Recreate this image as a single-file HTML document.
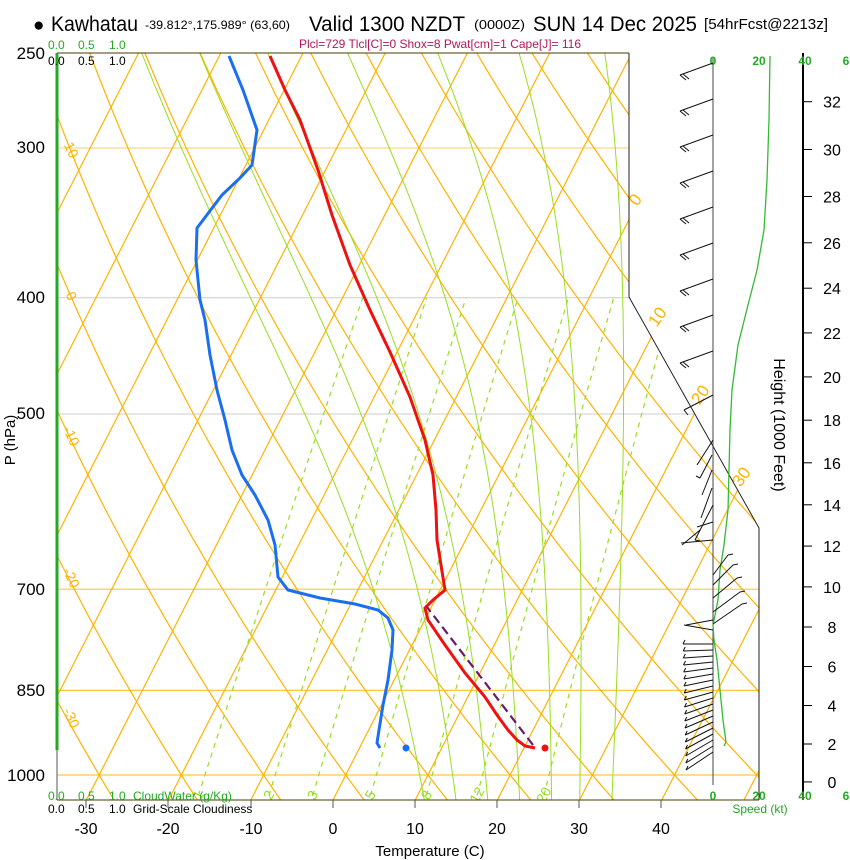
<!DOCTYPE html>
<html><head><meta charset="utf-8"><style>
html,body{margin:0;padding:0;background:#fff;}
svg{display:block;font-family:"Liberation Sans",sans-serif;}
</style></head><body>
<svg id="s" width="850" height="860" viewBox="0 0 850 860" xmlns="http://www.w3.org/2000/svg">
<defs><clipPath id="cp"><polygon points="57,53 629,53 629,297 759,528 759,800 57,800"/></clipPath></defs>
<g id="grid" clip-path="url(#cp)"></g>
<g id="top"></g>
<line x1="57" y1="53" x2="629" y2="53" stroke="#4a3c00" stroke-width="1"/>
<polyline points="629,53 629,297 759,528 759,800" fill="none" stroke="#222" stroke-width="1"/>
<line x1="57" y1="800" x2="759" y2="800" stroke="#4a3c00" stroke-width="1"/>
<line x1="57" y1="53" x2="57" y2="750" stroke="#22aa22" stroke-width="3"/>
<line x1="57" y1="750" x2="57" y2="800" stroke="#555" stroke-width="1"/>
<line x1="713" y1="58" x2="713" y2="785" stroke="#444" stroke-width="1"/>
<line x1="803" y1="53" x2="803" y2="800" stroke="#000" stroke-width="2"/>
<g id="hax" font-size="16" fill="#000" text-anchor="middle"></g>
<g font-size="17" text-anchor="end" fill="#000">
<text x="45" y="59">250</text><text x="45" y="153">300</text><text x="45" y="303">400</text>
<text x="45" y="419">500</text><text x="45" y="595">700</text><text x="45" y="696">850</text><text x="45" y="781">1000</text>
</g>
<text transform="translate(15,440) rotate(-90)" font-size="15" text-anchor="middle">P (hPa)</text>
<g font-size="16" text-anchor="middle">
<text x="86" y="834">-30</text><text x="168" y="834">-20</text><text x="251" y="834">-10</text><text x="333" y="834">0</text>
<text x="415" y="834">10</text><text x="497" y="834">20</text><text x="579" y="834">30</text><text x="661" y="834">40</text>
</g>
<g stroke="#555"><line x1="86" y1="800" x2="86" y2="808"/><line x1="168" y1="800" x2="168" y2="808"/><line x1="251" y1="800" x2="251" y2="808"/><line x1="333" y1="800" x2="333" y2="808"/><line x1="415" y1="800" x2="415" y2="808"/><line x1="497" y1="800" x2="497" y2="808"/><line x1="579" y1="800" x2="579" y2="808"/><line x1="661" y1="800" x2="661" y2="808"/></g>
<text x="430" y="856" font-size="15" text-anchor="middle">Temperature (C)</text>
<text transform="translate(774,425) rotate(90)" font-size="16" text-anchor="middle">Height (1000 Feet)</text>
<text x="33" y="31" font-size="19">●</text>
<text x="51" y="31" font-size="21" textLength="87" lengthAdjust="spacingAndGlyphs">Kawhatau</text>
<text x="145" y="29" font-size="12" textLength="145" lengthAdjust="spacingAndGlyphs">-39.812°,175.989° (63,60)</text>
<text x="309" y="31" font-size="21" textLength="156" lengthAdjust="spacingAndGlyphs">Valid 1300 NZDT</text>
<text x="474" y="29" font-size="13" textLength="51" lengthAdjust="spacingAndGlyphs">(0000Z)</text>
<text x="533" y="31" font-size="21" textLength="164" lengthAdjust="spacingAndGlyphs">SUN 14 Dec 2025</text>
<text x="704" y="29" font-size="15" textLength="124" lengthAdjust="spacingAndGlyphs">[54hrFcst@2213z]</text>
<text x="440" y="48" font-size="12" fill="#b0185a" text-anchor="middle">Plcl=729 Tlcl[C]=0 Shox=8 Pwat[cm]=1 Cape[J]= 116</text>
<g font-size="12">
<text x="48" y="49" fill="#22aa22">0.0</text><text x="78" y="49" fill="#22aa22">0.5</text><text x="109" y="49" fill="#22aa22">1.0</text>
<text x="48" y="65">0.0</text><text x="78" y="65">0.5</text><text x="109" y="65">1.0</text>
<text x="48" y="800" fill="#22aa22">0.0</text><text x="78" y="800" fill="#22aa22">0.5</text><text x="109" y="800" fill="#22aa22">1.0</text>
<text x="133" y="800" fill="#22aa22">CloudWater (g/Kg)</text>
<text x="48" y="813">0.0</text><text x="78" y="813">0.5</text><text x="109" y="813">1.0</text>
<text x="133" y="813">Grid-Scale Cloudiness</text>
</g>
<g font-size="12" font-weight="bold" fill="#22aa22" text-anchor="middle">
<text x="713" y="65">0</text><text x="759" y="65">20</text><text x="805" y="65">40</text><text x="846" y="65">6</text>
<text x="713" y="800">0</text><text x="759" y="800">20</text><text x="805" y="800">40</text><text x="846" y="800">6</text>
</g>
<text x="760" y="813" font-size="12" fill="#22aa22" text-anchor="middle">Speed (kt)</text>
<polyline points="770,56 769,120 767,180 764,230 757,270 748,305 738,345 732,390 730,430 729,470 728,510 724,545 720,570 718,600 713,625 714,640 717,660 720,690 723,720 726,742 724,746" fill="none" stroke="#33bb33" stroke-width="1.3"/>
<g id="barbs" stroke="#111" stroke-width="1" fill="none"></g>
<polyline points="229,56 243,90 257,130 252,165 240,178 222,195 197,228 196,260 200,300 205,320 210,355 217,390 225,420 232,450 242,475 255,495 268,520 275,545 278,577 288,590 320,598 355,604 378,610 388,618 393,630 392,650 388,680 383,705 379,730 377,743 380,748" fill="none" stroke="#1a6ff0" stroke-width="3"/>
<circle cx="406" cy="748" r="3.5" fill="#1a6ff0"/>
<polyline points="270,56 285,90 300,120 318,170 332,215 350,265 370,310 390,352 410,397 425,440 433,475 436,510 437,540 441,565 445,590 433,600 425,608 428,620 445,645 465,673 485,697 497,715 508,730 517,740 525,746 535,748" fill="none" stroke="#ee1111" stroke-width="3"/>
<circle cx="545" cy="748" r="3.5" fill="#ee1111"/>
<polyline points="533,745 427,607" fill="none" stroke="#6a1a6a" stroke-width="2.2" stroke-dasharray="9,5"/>
<script>
(function(){
var NS="http://www.w3.org/2000/svg";
function Y(p){return 775-520.8*Math.log(1000/p);}
function X(T,p){return 333+8.22*T+0.51*(800-Y(p));}
var g=document.getElementById('grid'),top=document.getElementById('top');
function line(par,pts,col,w,dash){var e=document.createElementNS(NS,'polyline');e.setAttribute('points',pts.map(function(a){return a[0].toFixed(1)+','+a[1].toFixed(1)}).join(' '));e.setAttribute('fill','none');e.setAttribute('stroke',col);e.setAttribute('stroke-width',w);if(dash)e.setAttribute('stroke-dasharray',dash);par.appendChild(e);}
function text(par,x,y,s,col,size,rot){var e=document.createElementNS(NS,'text');e.setAttribute('x',x);e.setAttribute('y',y);e.setAttribute('fill',col);e.setAttribute('font-size',size);e.setAttribute('text-anchor','middle');if(rot)e.setAttribute('transform','rotate('+rot+' '+x+' '+y+')');e.textContent=s;par.appendChild(e);}
var OR='#ffb300';
[300,400,500].forEach(function(p){line(g,[[57,Y(p)],[800,Y(p)]],p==300?'#ffcc66':'#cccccc',1);});
[700,850,1000].forEach(function(p){line(g,[[57,Y(p)],[800,Y(p)]],'#ffc640',1.2);});
for(var T=-130;T<=60;T+=10){line(g,[[X(T,1060),Y(1060)],[X(T,240),Y(240)]],OR,1.2);}
for(var th=-40;th<=200;th+=10){var pts=[];for(var p=1060;p>=240;p-=10){var t=(th+273.15)*Math.pow(p/1000,0.286)-273.15;pts.push([X(t,p),Y(p)]);}line(g,pts,OR,1.2);}
function es(t){return 6.112*Math.exp(17.67*t/(t+243.5));}
[9,13,17,21,25,28.5,32.5].forEach(function(t0){var pts=[],t=t0+273.15;
 function step(T,p,dp){var e=es(T-273.15),rs=0.622*e/(p-e),Lv=2.5e6,Rd=287,cp=1005;var d=(Rd*T+Lv*rs)/(cp+Lv*Lv*rs*0.622/(Rd*T*T))/p;return T+d*dp;}
 var T2=t,pp=1000;var low=[];while(pp<1060){T2=step(T2,pp,5);pp+=5;low.push([X(T2-273.15,pp),Y(pp)]);}
 low.reverse();pts=low;pts.push([X(t-273.15,1000),Y(1000)]);
 T2=t;pp=1000;while(pp>240){T2=step(T2,pp,-5);pp-=5;pts.push([X(T2-273.15,pp),Y(pp)]);}
 line(g,pts,'#99dd22',1);});
[1,2,3,5,8,12,20].forEach(function(w){var pts=[];for(var p=1040;p>=400;p-=10){var e=w*p/(622+w),a=Math.log(e/6.112),t=243.5*a/(17.67-a);pts.push([X(t,p),Y(p)]);}line(g,pts,'#99dd22',1.2,'5,5');
 var p=1040,e=w*p/(622+w),a=Math.log(e/6.112),t=243.5*a/(17.67-a);text(g,X(t,p)+4,Y(p)+2,String(w),'#99dd22',14,-60);});
[[10,147],[0,293],[-10,433],[-20,575],[-30,715]].forEach(function(l){text(top,67,l[1]+5,String(l[0]),OR,14,65);});
[[0,640,203],[10,662,320],[20,705,398],[30,746,480]].forEach(function(l){text(top,l[1],l[2],String(l[0]),OR,17,-55);});
var hax=document.getElementById('hax');
for(var h=0;h<=32;h+=2){var p=1013.25*Math.pow(1-6.8756e-6*h*1000,5.2559),y=Y(p);line(hax,[[803,y],[812,y]],'#000',1);text(hax,832,y+6,String(h),'#000',16);}
var b=document.getElementById('barbs');
[63,99,135,171,207,243,279,315,351].forEach(function(y){line(b,[[713,y],[680,y+12]],'#111',1);line(b,[[680,y+12],[686,y+17]],'#111',1);line(b,[[683,y+11],[689,y+16]],'#111',1);});
line(b,[[713,395],[684,410]],'#111',1);line(b,[[684,410],[688,415]],'#111',1);
line(b,[[713,440],[697,465]],'#111',1);
line(b,[[712,455],[700,478]],'#111',1);line(b,[[700,478],[696,476]],'#111',1);
line(b,[[712,470],[702,495]],'#111',1);
line(b,[[712,488],[701,518]],'#111',1);
line(b,[[713,505],[695,540]],'#111',1);line(b,[[695,540],[700,541]],'#111',1);
line(b,[[713,522],[697,527]],'#111',1);line(b,[[700,530],[682,545]],'#111',1);
line(b,[[713,540],[681,543]],'#111',1);
[[555,728],[565,733],[578,737],[592,740],[604,742]].forEach(function(a){line(b,[[713,a[0]+20],[a[1],a[0]]],'#111',1);line(b,[[a[1],a[0]],[a[1]+5,a[0]-1]],'#111',1);});
line(b,[[713,620],[686,625]],'#111',1);line(b,[[713,630],[684,625]],'#111',1);
for(var y=644;y<=752;y+=6){var dx=(y-644)/108;line(b,[[713,y],[683+dx*3,y+dx*18]],'#111',1);line(b,[[683+dx*3,y+dx*18],[685+dx*3,y+dx*18-4]],'#111',1);}
})();
</script>
</svg>
</body></html>
